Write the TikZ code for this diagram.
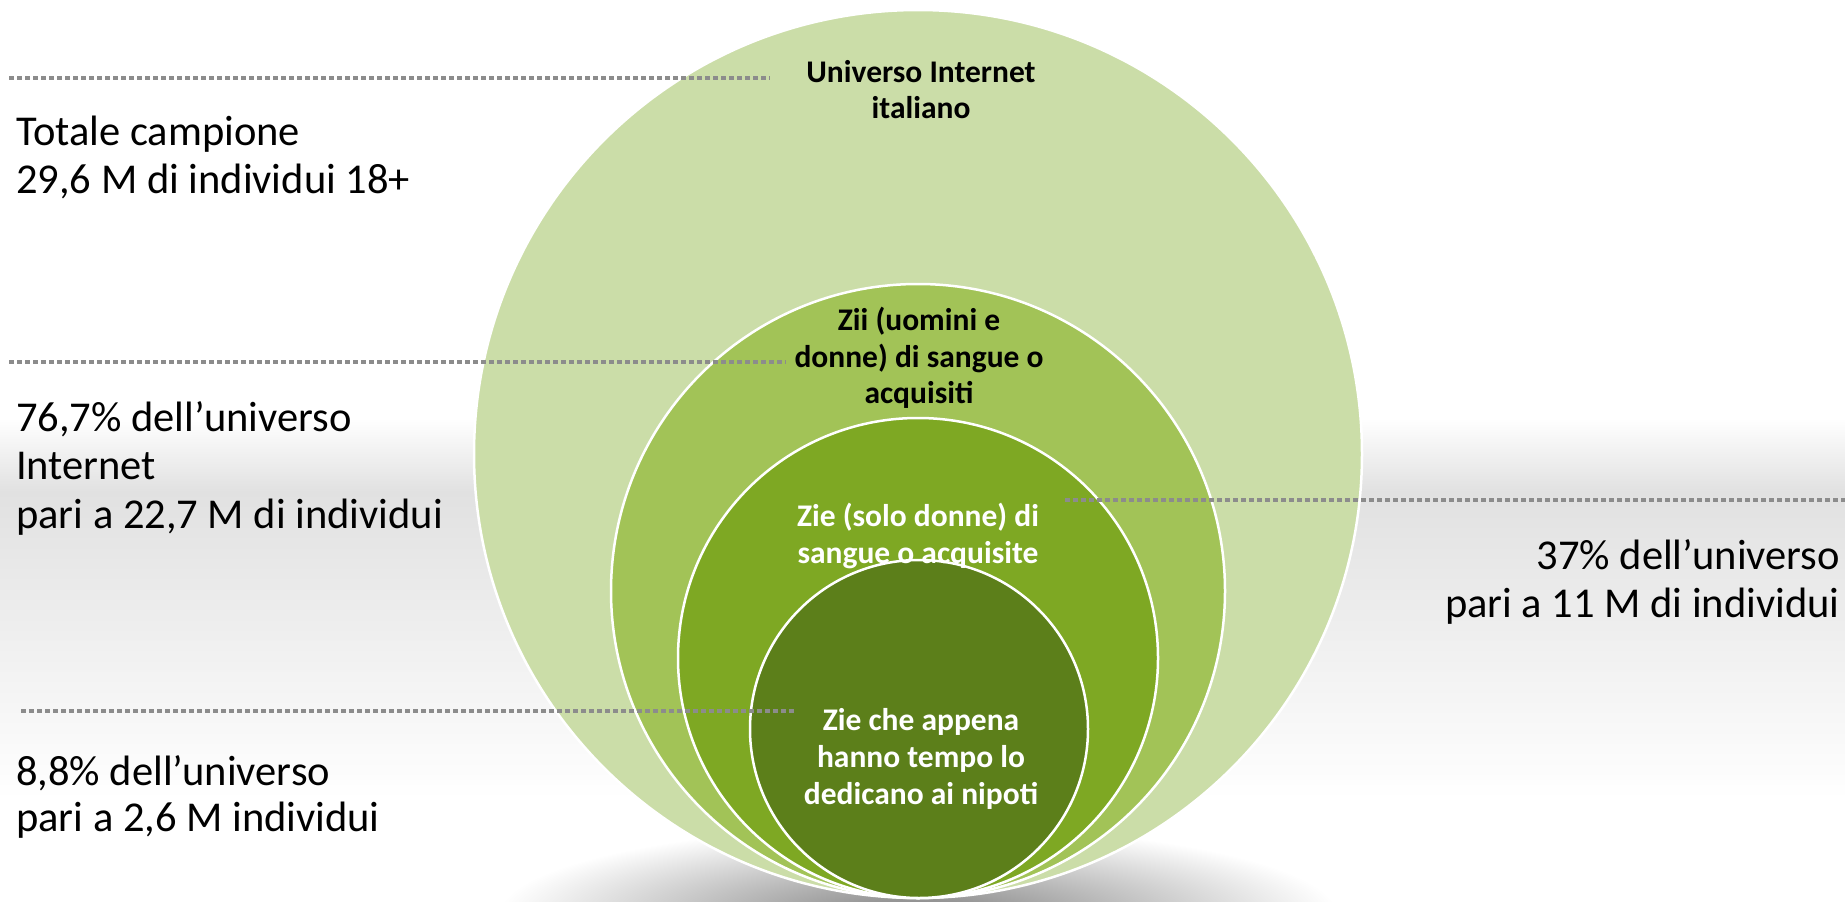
\documentclass[tikz,border=0pt]{standalone}
\usepackage{fontspec}
\setmainfont{Carlito}
\definecolor{cA}{HTML}{CBDDA8}
\definecolor{cB}{HTML}{A2C357}
\definecolor{cC}{HTML}{7EA823}
\definecolor{cD}{HTML}{5C7F1A}
\definecolor{dotc}{HTML}{8C8C8C}
\definecolor{bandc}{HTML}{E1E1E1}
\tikzset{
  ring/.style={circle, draw=white, line width=2.5pt, inner sep=0pt, outer sep=0pt},
  leader/.style={draw=dotc, line width=3.5pt, dash pattern=on 4.5pt off 3.5pt},
  side/.style={inner sep=0pt, font=\fontsize{42.5}{50}\selectfont, text=black},
  inlab/.style={inner sep=0pt, anchor=base, font=\fontsize{31.5}{37}\selectfont\bfseries},
}
\begin{document}
\begin{tikzpicture}[x=1pt,y=-1pt]
\useasboundingbox (0,0) rectangle (1845,902);
\fill[white] (0,0) rectangle (1845,902);
% background band
\shade[top color=white,bottom color=bandc] (0,418) rectangle (1845,492);
\shade[top color=bandc,bottom color=white] (0,491.5) rectangle (1845,800);
% bottom shadow
\shade[inner color=black!50,outer color=white] (918,915) ellipse [x radius=420pt, y radius=90pt];
% circles
\node[ring, fill=cA, minimum size=888pt] (uni) at (918,454) {};
\node[ring, fill=cB, minimum size=614pt] (zii) at (918,591) {};
\node[ring, fill=cC, minimum size=480pt] (zie) at (918,658) {};
\node[ring, fill=cD, minimum size=338pt] (nip) at (919,729) {};
% leader lines
\coordinate (l1a) at (9,78);   \coordinate (l1b) at (770,78);
\coordinate (l2a) at (9,362);  \coordinate (l2b) at (786,362);
\coordinate (l3a) at (1065,500); \coordinate (l3b) at (1845,500);
\coordinate (l4a) at (21,711); \coordinate (l4b) at (794,711);
\draw[leader] (l1a) -- (l1b);
\draw[leader] (l2a) -- (l2b);
\draw[leader] (l3a) -- (l3b);
\draw[leader] (l4a) -- (l4b);
% circle labels
\node[inlab] (u1) at (921,82) {Universo Internet};
\node[inlab] (u2) at (921,118) {italiano};
\node[inlab] (z1) at (919,330) {Zii (uomini e};
\node[inlab] (z2) at (919,367) {donne) di sangue o};
\node[inlab] (z3) at (919,403) {acquisiti};
\node[inlab, text=white] (s1) at (918,526) {Zie (solo donne) di};
\node[inlab, text=white] (s2) at (918,563) {sangue o acquisite};
\node[inlab, text=white] (n1) at (921,730) {Zie che appena};
\node[inlab, text=white] (n2) at (921,767) {hanno tempo lo};
\node[inlab, text=white] (n3) at (921,804) {dedicano ai nipoti};
% side labels
\node[side, anchor=base west] (t1) at (16,145) {Totale campione};
\node[side, anchor=base west] (t2) at (16,193) {29,6 M di individui 18+};
\node[side, anchor=base west] (i1) at (16,431) {76,7\% dell’universo};
\node[side, anchor=base west] (i2) at (16,479) {Internet};
\node[side, anchor=base west] (i3) at (16,528) {pari a 22,7 M di individui};
\node[side, anchor=base west] (e1) at (16,785) {8,8\% dell’universo};
\node[side, anchor=base west] (e2) at (16,831) {pari a 2,6 M individui};
\node[side, anchor=base east] (r1) at (1840,569) {37\% dell’universo};
\node[side, anchor=base east] (r2) at (1840,617) {pari a 11 M di individui};
\end{tikzpicture}
\end{document}
